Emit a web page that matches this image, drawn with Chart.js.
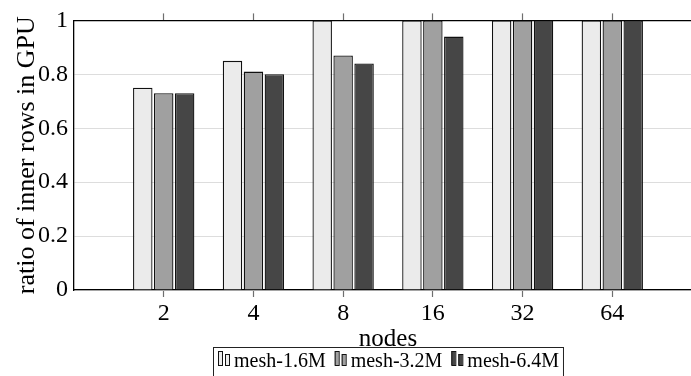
<!DOCTYPE html>
<html>
<head>
<meta charset="utf-8">
<script src="https://cdn.jsdelivr.net/npm/chart.js@4.4.0/dist/chart.umd.min.js"></script>
<style>
  html, body { margin: 0; padding: 0; background: #fff; }
  #wrap { width: 691px; height: 376px; overflow: hidden; }
  canvas { display: block; }
</style>
</head>
<body>
<div id="wrap"><canvas id="myChart" width="720" height="376"></canvas></div>
<script>
var nodes = ['2', '4', '8', '16', '32', '64'];
var mesh16 = [0.75, 0.85, 1.0, 1.0, 1.0, 1.0];
var mesh32 = [0.73, 0.81, 0.87, 1.0, 1.0, 1.0];
var mesh64 = [0.73, 0.80, 0.84, 0.94, 1.0, 1.0];
var yTicks = [0, 0.2, 0.4, 0.6, 0.8, 1];
var seriesNames = ['mesh-1.6M', 'mesh-3.2M', 'mesh-6.4M'];
var fills = ['#ebebeb', '#a0a0a0', '#464646'];

var serif = 'Liberation Serif';

// an empty slot at each end so the axis runs one full step past the outer groups
var labels = [''].concat(nodes, ['']);
function padded(arr) { return [null].concat(arr, [null]); }

// no tick marks on the empty end slots
function tickColor(ctx) {
  return (ctx.index === 0 || ctx.index === labels.length - 1) ? 'rgba(0,0,0,0)' : '#6f6f6f';
}

// boxed legend under the axis title, two little bars per entry
var boxLegend = {
  id: 'boxLegend',
  afterDraw: function (chart) {
    var ctx = chart.ctx, area = chart.chartArea;
    var sw = 14, gap = 3, space = 8, pad = 4;
    ctx.save();
    ctx.font = '20px "' + serif + '"';
    var items = chart.data.datasets.map(function (d) {
      return { text: d.label, fill: d.backgroundColor, w: sw + gap + ctx.measureText(d.label).width };
    });
    var total = pad * 2 + space * (items.length - 1);
    items.forEach(function (it) { total += it.w; });
    var x = Math.round((area.left + area.right) / 2 - total / 2), top = 347;
    ctx.strokeStyle = '#222';
    ctx.lineWidth = 1;
    ctx.strokeRect(x + 0.5, top + 0.5, total, 34);
    var ix = x + pad;
    items.forEach(function (it) {
      ctx.fillStyle = it.fill;
      ctx.strokeStyle = '#111';
      ctx.fillRect(ix + 1, 351, 4, 14);
      ctx.strokeRect(ix + 1.5, 351.5, 4, 14);
      ctx.fillRect(ix + 8, 354, 4, 11);
      ctx.strokeRect(ix + 8.5, 354.5, 4, 11);
      ctx.fillStyle = '#000';
      ctx.textBaseline = 'alphabetic';
      ctx.fillText(it.text, ix + sw + gap, 367);
      ix += it.w + space;
    });
    ctx.restore();
  }
};

function bars(i, values) {
  return {
    label: seriesNames[i],
    data: padded(values),
    backgroundColor: fills[i],
    borderColor: '#111',
    borderWidth: 1.3,
    categoryPercentage: 0.7,
    barPercentage: 0.93
  };
}

var chart = new Chart(document.getElementById('myChart').getContext('2d'), {
  type: 'bar',
  data: {
    labels: labels,
    datasets: [bars(0, mesh16), bars(1, mesh32), bars(2, mesh64)]
  },
  plugins: [boxLegend],
  options: {
    responsive: false,
    animation: false,
    devicePixelRatio: 1,
    layout: { padding: { left: 0, right: 18, top: 0, bottom: 0 } },
    plugins: {
      legend: { display: false },
      tooltip: { enabled: false }
    },
    scales: {
      x: {
        offset: false,
        afterFit: function (s) { s.height = 86; },
        border: { color: '#000', width: 1.3 },
        grid: { offset: false, drawOnChartArea: false, tickLength: 7, tickWidth: 1.2, tickColor: tickColor },
        ticks: { padding: 2, color: '#000', autoSkip: false, maxRotation: 0, font: { family: serif, size: 24 } },
        title: {
          display: true, text: 'nodes', color: '#000',
          font: { family: serif, size: 25, lineHeight: 1 },
          padding: { top: 0, bottom: 24 }
        }
      },
      x2: {
        type: 'category',
        position: 'top',
        offset: false,
        afterFit: function (s) { s.height = 13; },
        border: { color: '#000', width: 1.3 },
        grid: { offset: false, drawOnChartArea: false, tickLength: 7, tickWidth: 1.2, tickColor: tickColor },
        ticks: { display: false }
      },
      y: {
        min: 0,
        max: 1,
        afterBuildTicks: function (s) { s.ticks = yTicks.map(function (v) { return { value: v }; }); },
        afterFit: function (s) { s.width = 74; },
        border: { color: '#000', width: 1.3 },
        grid: { color: '#dddddd', lineWidth: 1, drawTicks: false },
        ticks: {
          padding: 6, color: '#000',
          font: { family: serif, size: 24 },
          callback: function (v) { return String(v); }
        },
        title: {
          display: true, text: 'ratio of inner rows in GPU', color: '#000',
          font: { family: serif, size: 26, lineHeight: 1 },
          padding: { top: 14, bottom: 0 }
        }
      }
    }
  }
});
</script>
</body>
</html>
